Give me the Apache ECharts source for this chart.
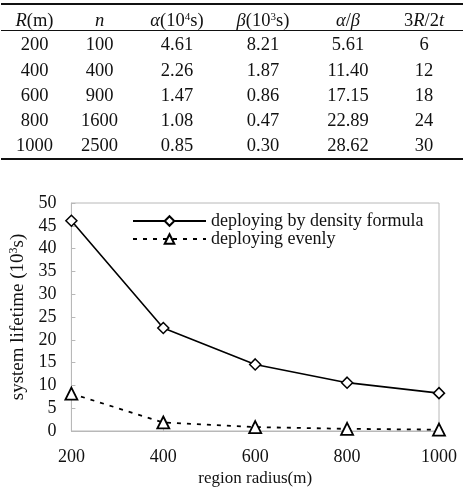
<!DOCTYPE html>
<html>
<head>
<meta charset="utf-8">
<script src="https://cdn.jsdelivr.net/npm/echarts@6/dist/echarts.min.js"></script>
<style>
  html, body { margin: 0; padding: 0; background: #fff; }
  #wrap { position: relative; width: 464px; height: 494px; overflow: hidden; }
  #chart { position: absolute; left: 0; top: 0; width: 464px; height: 494px; }
  #table { position: absolute; left: 0; top: 0; width: 464px; height: 170px; font-family: "Liberation Serif", "Times New Roman", serif; color: #111; font-size: 18.5px; }
  .cell { position: absolute; transform: translate(-50%, -50%); white-space: nowrap; line-height: 18px; }
  .rule { position: absolute; left: 1px; width: 462px; background: #111; }
  sup { font-size: 11px; vertical-align: 6px; line-height: 0; }
  i { font-style: italic; }
</style>
</head>
<body>
<div id="wrap">
  <div id="chart"></div>
  <div id="table"></div>
</div>
<script>
// ---- data ----
const headers = ['<i>R</i>(m)', '<i>n</i>', '<i>α</i>(10<sup>4</sup>s)', '<i>β</i>(10<sup>3</sup>s)', '<i>α</i>/<i>β</i>', '3<i>R</i>/2<i>t</i>'];
const radius = [200, 400, 600, 800, 1000];
const nodes = [100, 400, 900, 1600, 2500];
const alphaVals = ['4.61', '2.26', '1.47', '1.08', '0.85'];
const betaVals = ['8.21', '1.87', '0.86', '0.47', '0.30'];
const ratioVals = ['5.61', '11.40', '17.15', '22.89', '28.62'];
const threeRVals = ['6', '12', '18', '24', '30'];
const densityLifetime = [46.1, 22.6, 14.6, 10.6, 8.3];
const evenLifetime = [8.21, 1.87, 0.86, 0.47, 0.30];
const seriesNames = ['deploying by density formula', 'deploying evenly'];

// ---- table (HTML) ----
const colX = [34.5, 99.5, 177, 263, 348, 424];
const rowY = [19.5, 44, 69.5, 95, 120, 145];
const tbl = document.getElementById('table');
function addCell(html, x, y) {
  const d = document.createElement('div');
  d.className = 'cell';
  d.style.left = x + 'px';
  d.style.top = y + 'px';
  d.innerHTML = html;
  tbl.appendChild(d);
}
headers.forEach((h, c) => addCell(h, colX[c], rowY[0]));
const cols = [radius.map(String), nodes.map(String), alphaVals, betaVals, ratioVals, threeRVals];
for (let r = 0; r < radius.length; r++) {
  cols.forEach((col, c) => addCell(col[r], colX[c], rowY[r + 1]));
}
function addRule(y, h) {
  const d = document.createElement('div');
  d.className = 'rule';
  d.style.top = y + 'px';
  d.style.height = h + 'px';
  tbl.appendChild(d);
}
addRule(2.5, 2);
addRule(29.5, 1);
addRule(158, 2);

// ---- chart ----
const font = '"Liberation Serif", "Times New Roman", serif';
const chart = echarts.init(document.getElementById('chart'), null, { renderer: 'canvas' });
const gray = '#b8b8b8';
chart.setOption({
  animation: false,
  backgroundColor: 'transparent',
  grid: {
    left: 67, right: 25, top: 203, bottom: 63,
    show: true, borderColor: gray, borderWidth: 1, backgroundColor: 'transparent'
  },
  legend: {
    orient: 'vertical',
    left: 132, top: 212, padding: 0,
    itemWidth: 73, itemHeight: 12, itemGap: 0,
    textStyle: { fontFamily: font, fontSize: 18, color: '#111', lineHeight: 18 },
    data: seriesNames
  },
  xAxis: {
    type: 'value', min: 200, max: 1000, interval: 200,
    axisLine: { show: true, lineStyle: { color: gray, width: 1 } },
    axisTick: { show: true, inside: true, length: 4, lineStyle: { color: gray } },
    axisLabel: {
      fontFamily: font, fontSize: 18, color: '#111', margin: 17,
      formatter: (v) => String(v)
    },
    splitLine: { show: false },
    name: 'region radius(m)', nameLocation: 'middle', nameGap: 39,
    nameTextStyle: { fontFamily: font, fontSize: 17, color: '#111' }
  },
  yAxis: {
    type: 'value', min: 0, max: 50, interval: 5,
    axisLine: { show: true, lineStyle: { color: gray, width: 1 } },
    axisTick: { show: true, inside: true, length: 4, lineStyle: { color: gray } },
    axisLabel: { fontFamily: font, fontSize: 18, color: '#111', margin: 15 },
    splitLine: { show: false },
    name: '{a|system lifetime (10}{s|3}{a|s)}',
    nameLocation: 'middle', nameGap: 37, nameRotate: 90,
    nameTextStyle: {
      fontFamily: font, fontSize: 19, color: '#111',
      rich: {
        a: { fontFamily: font, fontSize: 19, color: '#111' },
        s: { fontFamily: font, fontSize: 12, color: '#111', verticalAlign: 'top', padding: [0, 0, 8, 0] }
      }
    }
  },
  series: [
    {
      name: seriesNames[0], type: 'line',
      data: radius.map((x, i) => [x, densityLifetime[i]]),
      symbol: 'diamond', symbolSize: 11, showAllSymbol: true,
      lineStyle: { color: '#000', width: 1.6, type: 'solid' },
      itemStyle: { color: '#fff', borderColor: '#000', borderWidth: 1.5 },
      z: 3
    },
    {
      name: seriesNames[1], type: 'line',
      data: radius.map((x, i) => [x, evenLifetime[i]]),
      symbol: 'triangle', symbolSize: 12, showAllSymbol: true,
      lineStyle: { color: '#000', width: 1.8, type: [4, 6] },
      itemStyle: { color: '#fff', borderColor: '#000', borderWidth: 1.8 },
      z: 2
    }
  ]
});
</script>
</body>
</html>
